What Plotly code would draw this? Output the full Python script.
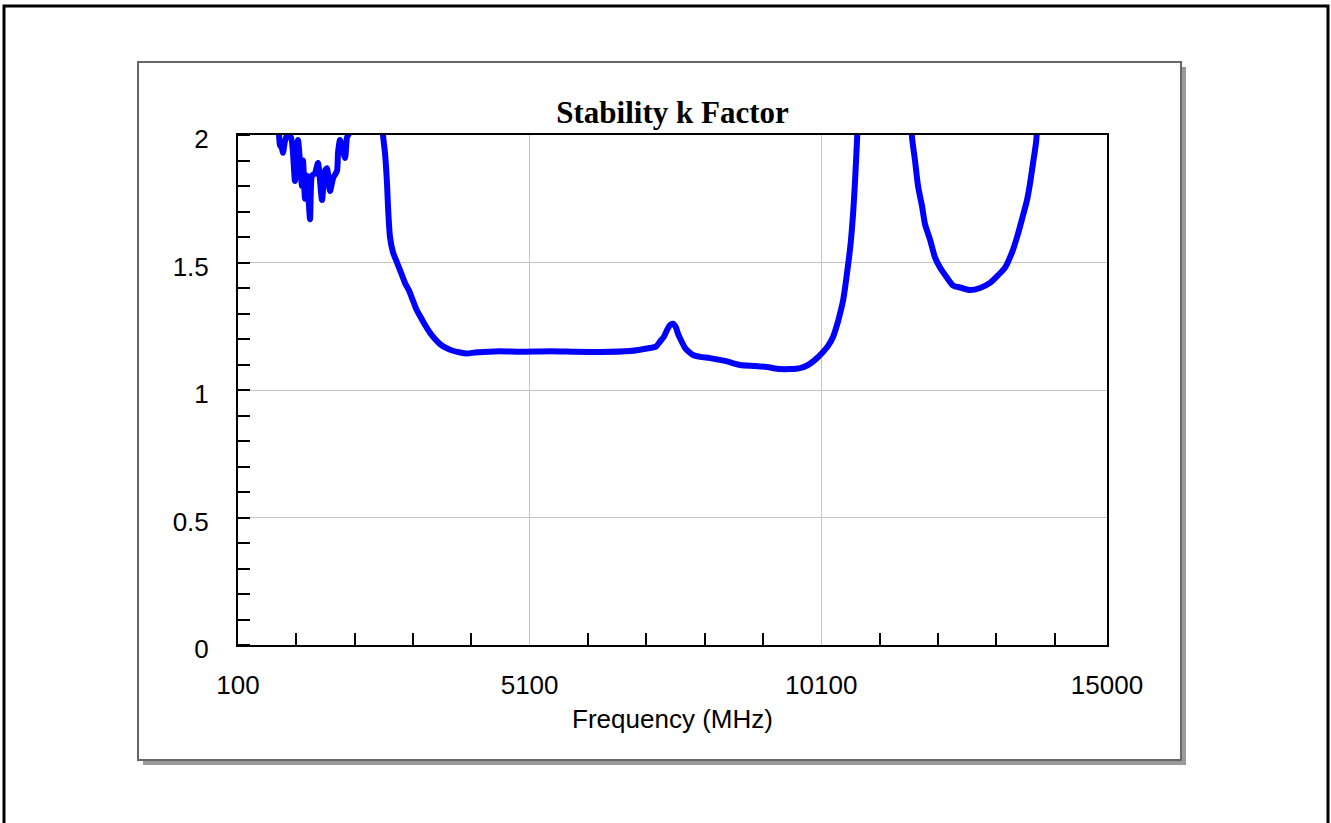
import plotly.graph_objects as go

# Stability k factor vs frequency (values above 2 run off the top of the axis)
freq_mhz = [
    100, 500, 760, 803, 820, 850, 871, 900, 940, 1009, 1077, 1129, 1197, 1215,
    1249, 1283, 1335, 1369, 1420, 1472, 1540, 1592, 1626, 1678, 1729, 1798,
    1815, 1849, 1935, 1969, 2030, 2150, 2400, 2540,
    2586, 2620, 2655, 2672, 2706, 2758, 2826, 2895, 2963, 3032, 3084, 3152,
    3221, 3307, 3392, 3478, 3564, 3667, 3770, 3907, 4027, 4164, 4250, 4593,
    4936, 5450, 5879, 6307, 6822, 7165, 7267, 7336, 7405, 7456, 7508, 7559,
    7610, 7645, 7696, 7765, 7833, 7902, 8022, 8193, 8451, 8708, 8965, 9171,
    9394, 9565, 9737, 9874, 9994, 10131, 10217, 10303, 10371, 10423, 10474,
    10508, 10543, 10577, 10611, 10646, 10680, 10714, 10760, 11200, 11610,
    11657, 11708, 11760, 11829, 11880, 11966, 12051, 12137, 12257, 12360,
    12514, 12652, 12823, 12995, 13132, 13252, 13372, 13458, 13543, 13629,
    13680, 13732, 13783, 13830, 14300, 15000,
]
k_factor = [
    3.5, 2.6, 2.1, 2.0, 1.96, 1.95, 1.93, 1.97, 2.0, 1.99, 1.82, 1.98, 1.80, 1.90,
    1.75, 1.84, 1.67, 1.84, 1.85, 1.89, 1.745, 1.86, 1.87, 1.78, 1.83, 1.86,
    1.93, 1.98, 1.91, 1.99, 2.02, 2.3, 2.8, 2.2,
    2.0, 1.93, 1.81, 1.72, 1.60, 1.54, 1.50, 1.46, 1.42, 1.39, 1.36, 1.32,
    1.29, 1.255, 1.225, 1.20, 1.18, 1.165, 1.155, 1.147, 1.143, 1.147, 1.148, 1.152,
    1.15, 1.152, 1.15, 1.149, 1.153, 1.165, 1.17, 1.19, 1.21, 1.235, 1.255, 1.26,
    1.245, 1.22, 1.195, 1.165, 1.149, 1.137, 1.13, 1.125, 1.114, 1.098, 1.094, 1.09,
    1.082, 1.082, 1.086, 1.098, 1.118, 1.149, 1.173, 1.208, 1.255, 1.30, 1.35,
    1.40, 1.46, 1.52, 1.59, 1.69, 1.82, 1.98, 2.2, 3.0, 2.2,
    1.99, 1.90, 1.80, 1.72, 1.65, 1.59, 1.52, 1.48, 1.44, 1.41,
    1.40, 1.392, 1.40, 1.42, 1.45, 1.48, 1.54, 1.60, 1.67, 1.745,
    1.81, 1.89, 1.97, 2.1, 3.0, 4.0,
]

x_label_vals = [100, 5100, 10100, 15000]
x_minor_vals = [1100, 2100, 3100, 4100, 6100, 7100, 8100, 9100,
                11100, 12100, 13100, 14100]
y_label_vals = [0, 0.5, 1, 1.5, 2]

W, H = 1331, 823
PL, PR, PT, PB = 238, 1107, 135, 645  # plot area edges in pixels


def px_x(p):
    return (p - PL) / (PR - PL)


def px_y(p):
    return (PB - p) / (PB - PT)


fig = go.Figure()
fig.add_trace(go.Scatter(
    x=freq_mhz, y=k_factor, mode="lines",
    line=dict(color="#0000FF", width=6, shape="spline", smoothing=0.6),
    hoverinfo="x+y", showlegend=False,
))

shapes = [
    # drop shadow of the chart frame
    dict(type="rect", xref="paper", yref="paper", layer="below",
         x0=px_x(143), x1=px_x(1186), y0=px_y(765), y1=px_y(67),
         fillcolor="#9a9a9a", line=dict(width=0)),
    # chart frame
    dict(type="rect", xref="paper", yref="paper", layer="below",
         x0=px_x(138), x1=px_x(1181), y0=px_y(760), y1=px_y(62),
         fillcolor="white", line=dict(color="#666666", width=2)),
    # outer page border
    dict(type="rect", xref="paper", yref="paper", layer="below",
         x0=px_x(4), x1=px_x(1328), y0=px_y(840), y1=px_y(6),
         fillcolor="rgba(0,0,0,0)", line=dict(color="black", width=3)),
]

tick_font = dict(family="Liberation Sans, Arial, sans-serif", size=26, color="black")

fig.update_layout(
    width=W, height=H,
    margin=dict(l=PL, r=W - PR, t=PT, b=H - PB, pad=0),
    paper_bgcolor="white",
    plot_bgcolor="rgba(0,0,0,0)",
    shapes=shapes,
    title=dict(
        text="<b>Stability k Factor</b>",
        font=dict(family="Liberation Serif, Times New Roman, serif", size=31, color="black"),
        xref="paper", x=0.5, xanchor="center",
        yref="container", y=1 - 112 / H, yanchor="middle",
    ),
    xaxis=dict(
        range=[100, 15000], tickmode="array", tickvals=x_label_vals,
        ticktext=[str(v) for v in x_label_vals], ticks="",
        showgrid=True, gridcolor="#c4c4c4", gridwidth=1,
        showline=True, linecolor="black", linewidth=2, mirror=True,
        zeroline=False, tickfont=tick_font, ticklabelstandoff=16,
        minor=dict(tickmode="array", tickvals=x_minor_vals, ticks="inside",
                   ticklen=12, tickwidth=1.5, tickcolor="black", showgrid=False),
        title=dict(text="Frequency (MHz)", font=tick_font, standoff=11),
    ),
    yaxis=dict(
        range=[0, 2], tickmode="array", tickvals=y_label_vals,
        ticktext=["0", "0.5", "1", "1.5", "2"], ticks="",
        showgrid=True, gridcolor="#c4c4c4", gridwidth=1,
        showline=True, linecolor="black", linewidth=2, mirror=True,
        zeroline=False, tickfont=tick_font, ticklabelstandoff=22,
        ticklabelshift=4,
        minor=dict(tickmode="linear", tick0=0, dtick=0.1, ticks="inside",
                   ticklen=12, tickwidth=1.5, tickcolor="black", showgrid=False),
    ),
)

fig.write_html("out.html")
